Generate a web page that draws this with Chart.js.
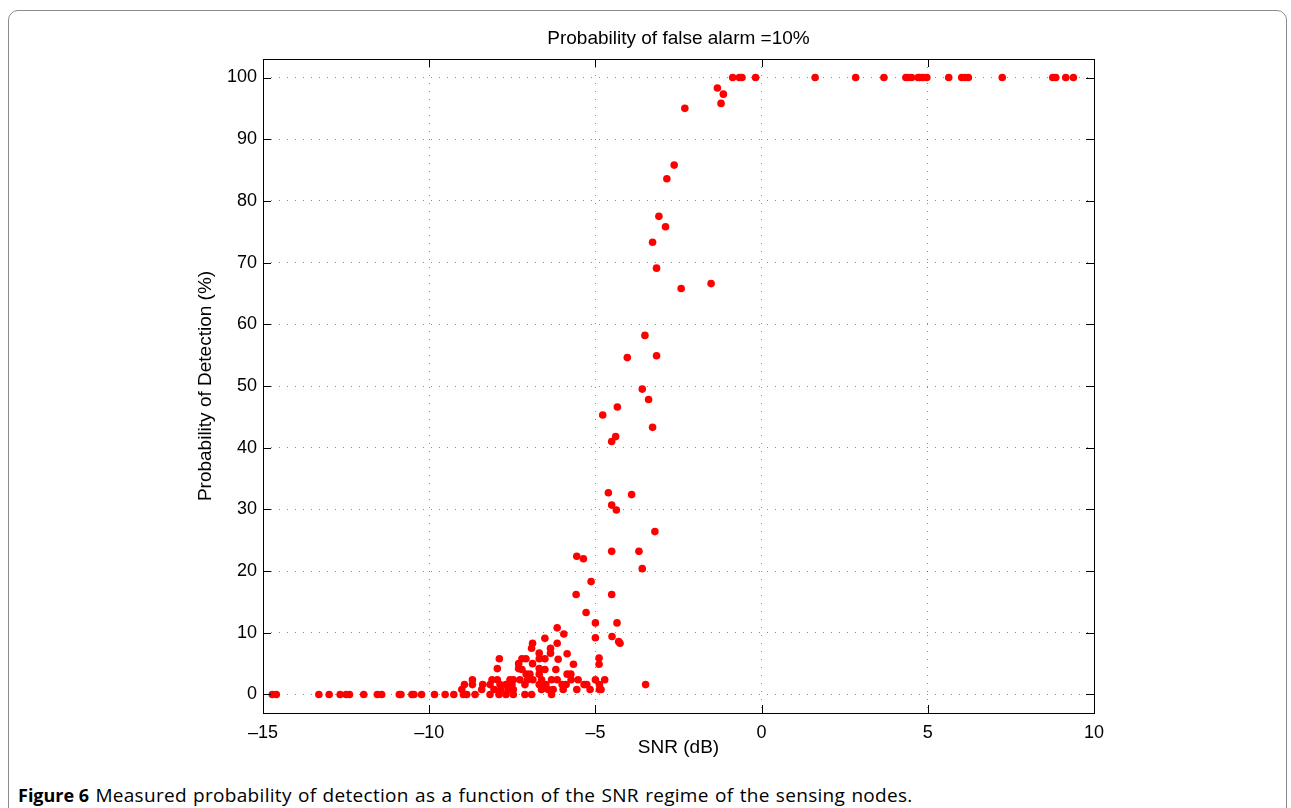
<!DOCTYPE html>
<html>
<head>
<meta charset="utf-8">
<script src="https://cdn.jsdelivr.net/npm/chart.js@4.4.0/dist/chart.umd.min.js"></script>
<style>
  html, body { margin: 0; padding: 0; background: #fff; }
  body { width: 1291px; height: 808px; position: relative; overflow: hidden; }
  #frame {
    position: absolute; left: 8px; top: 10px; width: 1279px; height: 900px;
    border: 1px solid #8c8c8c; border-radius: 10px; box-sizing: border-box;
  }
  #wrap { position: absolute; left: 0; top: 0; width: 1291px; height: 770px; }
  #caption {
    position: absolute; left: 18px; top: 782px; margin: 0;
    font-family: "Open Sans", "Noto Sans", sans-serif; font-size: 19px; line-height: 26px;
    letter-spacing: 0.3px; word-spacing: 1px;
    color: #000; white-space: nowrap;
  }
  #caption b { font-weight: 700; font-size: 18px; letter-spacing: 0; word-spacing: 0; }
</style>
</head>
<body>
<div id="frame"></div>
<div id="wrap"><canvas id="pdChart" width="1291" height="770"></canvas></div>
<p id="caption"><b>Figure 6</b> Measured probability of detection as a function of the SNR regime of the sensing nodes.</p>

<script>
// measured points: SNR (dB) and probability of detection (%)
const snr = [
  -14.72, -14.6, -13.32, -13.01, -12.68, -12.5, -12.4, -11.97, -11.56, -11.43,
  -10.9, -10.85, -10.52, -10.46, -10.23, -9.84, -9.52, -9.26, -8.97, -8.87, -8.62,
  -8.17, -7.9, -7.69, -7.47, -7.12, -6.92, -6.32,
  -9.02, -8.42, -8.05, -7.85, -7.63, -7.47, -6.62, -6.42, -6.27, -5.97, -5.56, -5.16, -4.88, -4.83,
  -8.94, -8.7, -8.39, -8.17, -7.87, -7.69, -7.51, -7.12, -6.69, -6.49, -6.0, -5.88, -5.34, -5.26, -4.88, -3.49,
  -8.7, -8.11, -7.95, -7.57, -7.47, -7.27, -7.04, -6.88, -6.62, -6.32, -6.15, -5.73, -5.52, -5.0, -4.72,
  -7.08, -6.97, -6.69, -5.85, -5.74,
  -7.95, -7.31, -7.21, -6.69, -6.52, -6.19,
  -7.31, -6.89, -5.66, -4.89,
  -7.89, -7.21, -7.09, -6.69, -6.52, -6.12, -4.89,
  -6.35, -6.69, -5.85,
  -6.92, -6.35,
  -6.89, -6.15, -4.3, -4.26,
  -6.52, -5.0, -4.5, -5.95,
  -6.15, -5.0, -4.35, -5.28,
  -5.58, -4.51, -5.13, -3.59, -5.36, -5.56, -4.51, -3.69, -3.21,
  -4.37, -4.51, -3.91, -4.61, -4.51, -4.39, -3.28, -4.78, -4.34, -3.4, -3.59,
  -4.04, -3.16, -3.51, -2.42, -1.52, -3.16, -3.28, -2.89, -3.09, -2.85, -2.63,
  -2.31, -1.22, -1.15, -1.33,
  -0.87, -0.67, -0.59, -0.18, 1.61, 2.83, 3.68, 4.34, 4.41, 4.51, 4.71, 4.76, 4.85, 4.97,
  5.63, 6.02, 6.12, 6.22, 7.24, 8.76, 8.85, 9.15, 9.38
];
const pd = [
  0, 0, 0, 0, 0, 0, 0, 0, 0, 0,
  0, 0, 0, 0, 0, 0, 0, 0, 0, 0, 0,
  0, 0, 0, 0, 0, 0, 0,
  0.8, 0.8, 0.8, 0.8, 0.8, 0.8, 0.8, 0.8, 0.8, 0.8, 0.8, 0.8, 0.8, 0.8,
  1.6, 1.6, 1.6, 1.6, 1.6, 1.6, 1.6, 1.6, 1.6, 1.6, 1.6, 1.6, 1.6, 1.6, 1.6, 1.6,
  2.4, 2.4, 2.4, 2.4, 2.4, 2.4, 2.4, 2.4, 2.4, 2.4, 2.4, 2.4, 2.4, 2.4, 2.4,
  3.3, 3.3, 3.3, 3.3, 3.3,
  4.2, 4.2, 4.05, 4.2, 4.05, 4.05,
  5.0, 5.0, 4.9, 4.9,
  5.8, 5.8, 5.8, 5.8, 5.8, 5.7, 5.9,
  6.7, 6.7, 6.6,
  7.5, 7.5,
  8.3, 8.3, 8.6, 8.3,
  9.1, 9.2, 9.4, 9.8,
  10.8, 11.6, 11.6, 13.3,
  16.2, 16.2, 18.3, 20.4, 22.0, 22.4, 23.2, 23.2, 26.4,
  29.9, 30.7, 32.4, 32.7, 41.0, 41.8, 43.3, 45.3, 46.6, 47.8, 49.5,
  54.6, 54.9, 58.2, 65.8, 66.6, 69.1, 73.3, 75.8, 77.5, 83.6, 85.8,
  95.0, 95.8, 97.3, 98.3,
  100, 100, 100, 100, 100, 100, 100, 100, 100, 100, 100, 100, 100, 100,
  100, 100, 100, 100, 100, 100, 100, 100, 100
];
const xRange = [-15, 10];
const yRange = [-3, 103];
const xStep = 5;
const yStep = 10;

const points = snr.map((x, i) => ({x: x, y: pd[i]}));
const fontFam = 'Liberation Sans, Arial, sans-serif';

// matlab style box with inward tick marks on all four sides
const boxTicks = {
  id: 'boxTicks',
  afterDraw(chart) {
    const {ctx, chartArea: a, scales} = chart;
    const len = 8;
    ctx.save();
    ctx.strokeStyle = '#000';
    ctx.lineWidth = 1;
    ctx.beginPath();
    scales.x.ticks.forEach(t => {
      const px = Math.round(scales.x.getPixelForValue(t.value)) + 0.5;
      ctx.moveTo(px, a.bottom); ctx.lineTo(px, a.bottom - len);
      ctx.moveTo(px, a.top); ctx.lineTo(px, a.top + len);
    });
    scales.y.ticks.forEach(t => {
      const py = Math.round(scales.y.getPixelForValue(t.value)) + 0.5;
      ctx.moveTo(a.left, py); ctx.lineTo(a.left + len, py);
      ctx.moveTo(a.right, py); ctx.lineTo(a.right - len, py);
    });
    ctx.stroke();
    ctx.strokeRect(Math.round(a.left) + 0.5, Math.round(a.top) + 0.5,
      Math.round(a.right - a.left), Math.round(a.bottom - a.top));
    ctx.restore();
  }
};

const ctx = document.getElementById('pdChart').getContext('2d');
new Chart(ctx, {
  type: 'scatter',
  data: {
    datasets: [{
      label: 'Pd',
      data: points,
      backgroundColor: '#ff0000',
      borderWidth: 0,
      pointRadius: 3.8
    }]
  },
  options: {
    responsive: false,
    animation: false,
    layout: { padding: { left: 0, right: 197, top: 0, bottom: 0 } },
    scales: {
      // top axis only carries the plot title, centred over the axes box
      xTop: {
        type: 'linear', position: 'top',
        min: xRange[0], max: xRange[1],
        afterFit: (scale) => { scale.height = 59; },
        grid: { display: false },
        border: { display: false },
        ticks: { display: false },
        title: {
          display: true, text: 'Probability of false alarm =10%', color: '#000',
          font: { family: fontFam, size: 19 },
          padding: { top: 27, bottom: 0 }
        }
      },
      x: {
        type: 'linear',
        min: xRange[0], max: xRange[1],
        afterFit: (scale) => { scale.height = 57; },
        grid: { color: 'rgba(0,0,0,0.45)', drawTicks: false },
        border: { display: false, dash: [1, 7] },
        ticks: {
          stepSize: xStep, padding: 9, color: '#000',
          font: { family: fontFam, size: 18 },
          callback: (v) => String(v).replace('-', '\u2013')
        },
        title: {
          display: true, text: 'SNR (dB)', color: '#000',
          font: { family: fontFam, size: 19 },
          padding: { top: 0, bottom: 11 }
        }
      },
      y: {
        type: 'linear',
        min: yRange[0], max: yRange[1],
        afterFit: (scale) => { scale.width = 263; },
        grid: { color: 'rgba(0,0,0,0.45)', drawTicks: false },
        border: { display: false, dash: [1, 7] },
        ticks: {
          stepSize: yStep, includeBounds: false, padding: 6, color: '#000',
          font: { family: fontFam, size: 18 }
        },
        title: {
          display: true, text: 'Probability of Detection (%)', color: '#000',
          font: { family: fontFam, size: 19 },
          padding: { top: 194, bottom: 0 }
        }
      }
    },
    plugins: {
      legend: { display: false },
      tooltip: { enabled: false },
      title: { display: false }
    }
  },
  plugins: [boxTicks]
});
</script>
</body>
</html>
